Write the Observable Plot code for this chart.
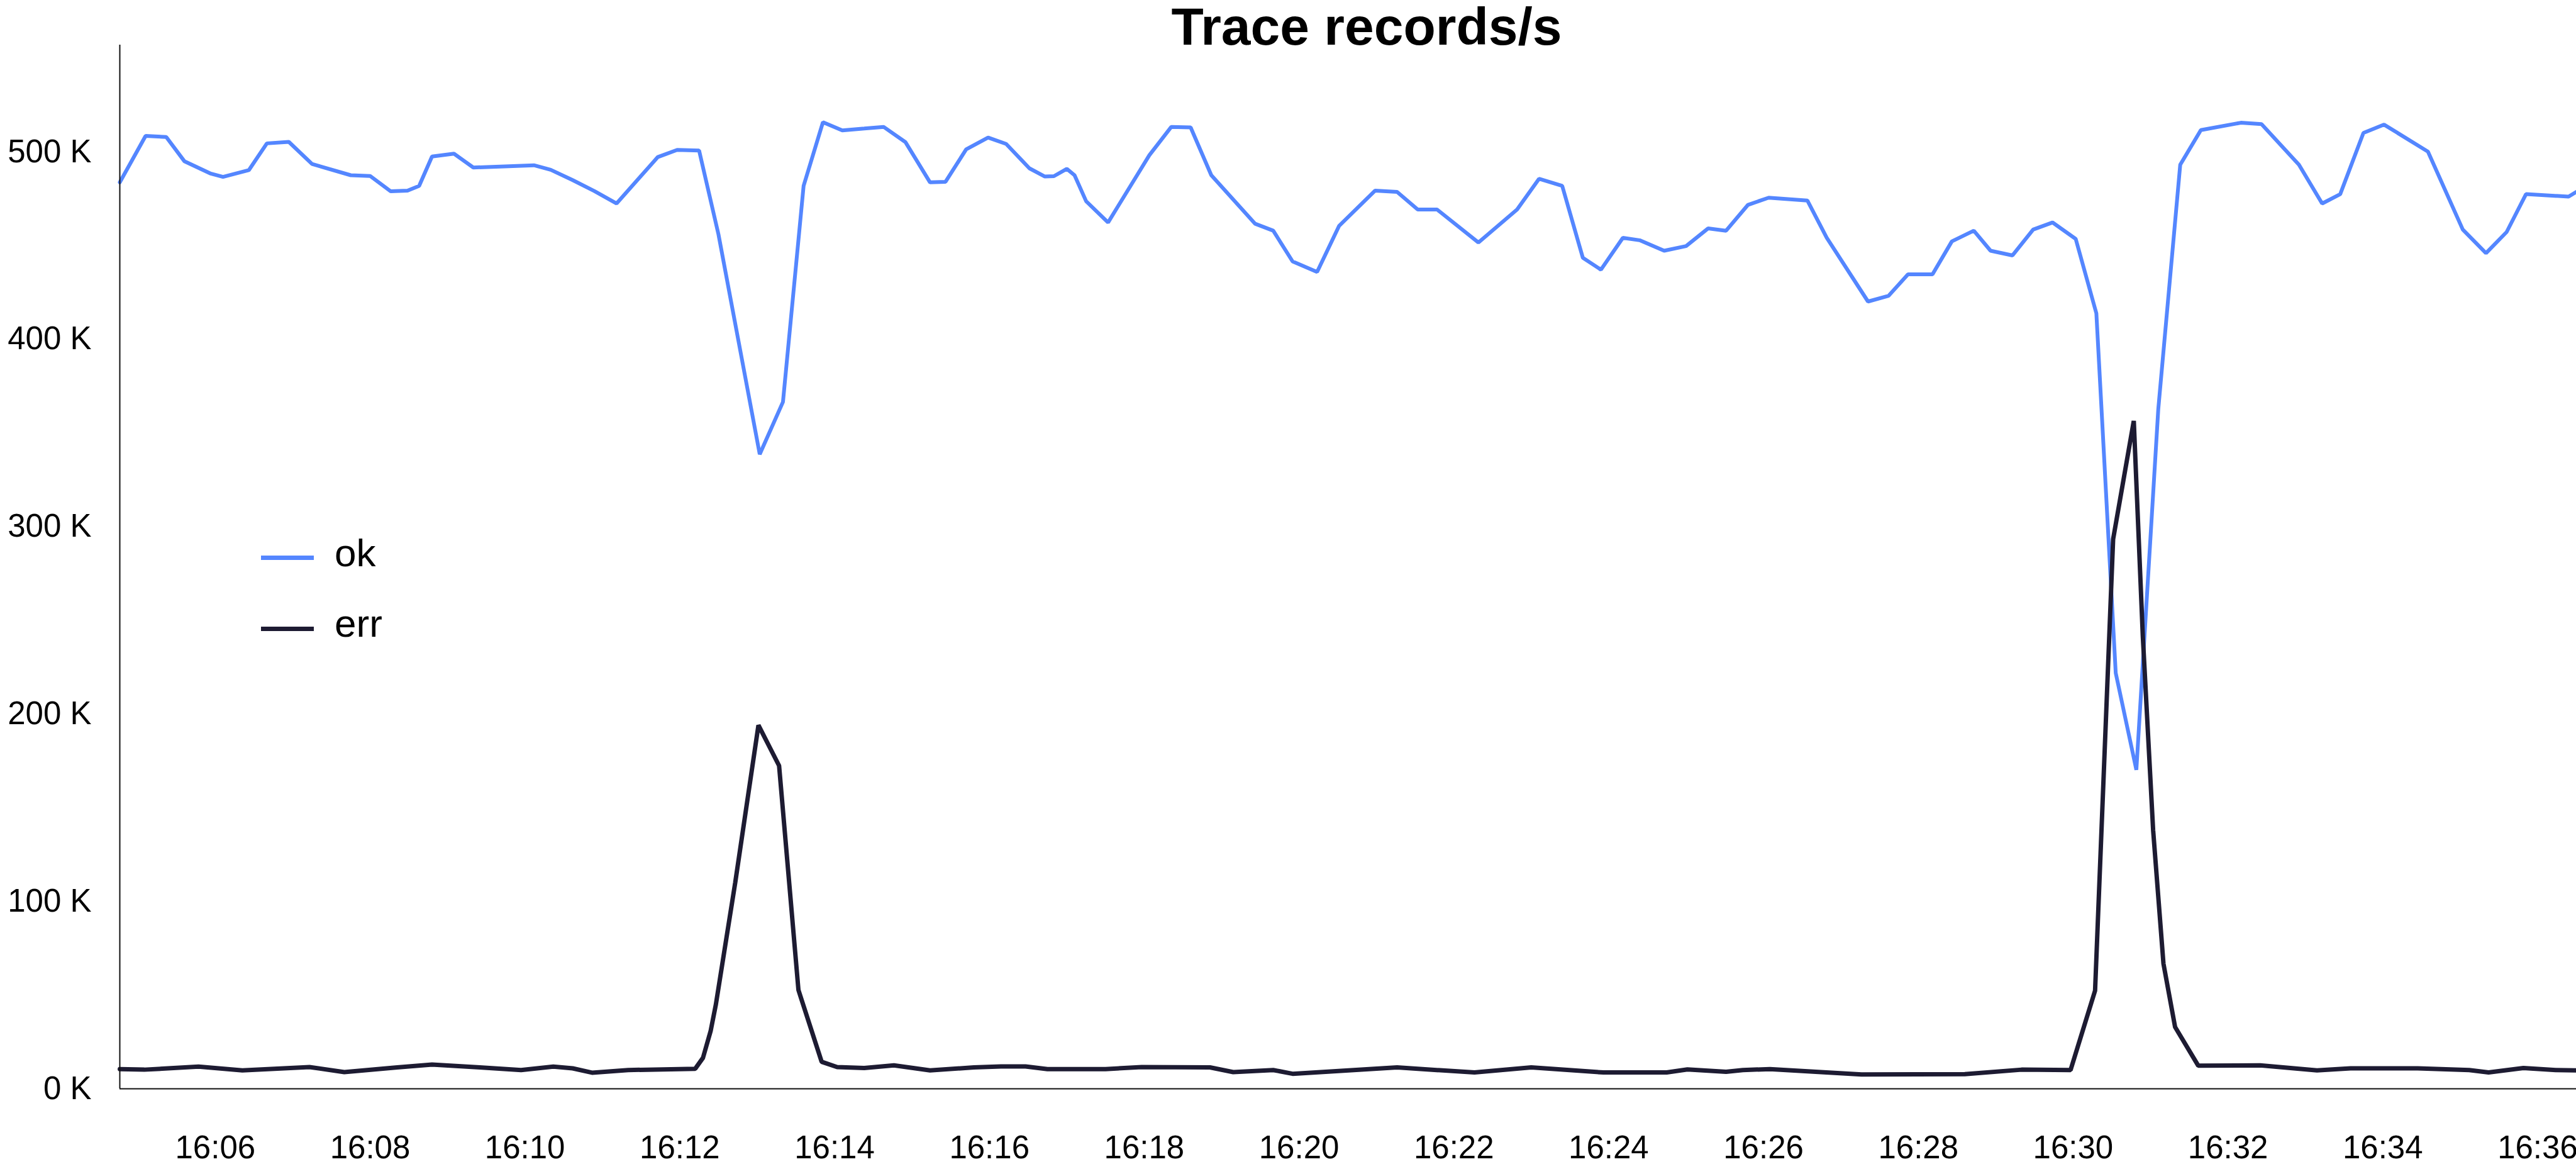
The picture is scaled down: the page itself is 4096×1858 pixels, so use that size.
<!DOCTYPE html>
<html>
<head>
<meta charset="utf-8">
<script src="https://cdn.jsdelivr.net/npm/d3@7"></script>
<script src="https://cdn.jsdelivr.net/npm/@observablehq/plot@0.6"></script>
<style>
  html, body { margin: 0; padding: 0; background: #fff; }
  #wrap { position: relative; width: 4096px; height: 1858px; font-family: "Liberation Sans", Arial, sans-serif; color: #000; }
  #chart { position: absolute; left: 0; top: 0; }
  #title { position: absolute; left: 2173px; top: 0px; transform: translateX(-50%); font-size: 84px; line-height: 84px; font-weight: bold; white-space: nowrap; }
  .lg-swatch { position: absolute; left: 414.5px; width: 84.3px; height: 7.8px; }
  .lg-text { position: absolute; left: 532px; font-size: 62px; line-height: 62px; white-space: nowrap; }
</style>
</head>
<body>
<div id="wrap">
  <div id="chart"></div>
  <div id="title"></div>
  <div id="legend"></div>
</div>
<script>
// ---- data ----
const titleText = "Trace records/s";
const seriesNames = ["ok", "err"];
const seriesColors = ["#5486ff", "#1d1b32"];

const okTimes = ["16:04:46","16:05:06","16:05:22","16:05:36","16:05:56","16:06:06","16:06:26","16:06:40","16:06:57","16:07:15",
  "16:07:45","16:08:00","16:08:16","16:08:29","16:08:38","16:08:48","16:09:05","16:09:20","16:10:07","16:10:20",
  "16:10:37","16:10:54","16:11:11","16:11:43","16:11:58","16:12:15","16:12:30","16:13:02","16:13:20","16:13:36",
  "16:13:51","16:14:06","16:14:23","16:14:38","16:14:55","16:15:14","16:15:26","16:15:42","16:15:59","16:16:13",
  "16:16:31","16:16:43","16:16:50","16:17:00","16:17:06","16:17:15","16:17:32","16:18:04","16:18:21","16:18:36",
  "16:18:52","16:19:26","16:19:40","16:19:55","16:20:14","16:20:31","16:20:59","16:21:16","16:21:32","16:21:47",
  "16:22:19","16:22:49","16:23:06","16:23:24","16:23:40","16:23:54","16:24:11","16:24:24","16:24:43","16:25:00",
  "16:25:17","16:25:31","16:25:48","16:26:04","16:26:34","16:26:49","16:27:21","16:27:37","16:27:52","16:28:11",
  "16:28:26","16:28:43","16:28:56","16:29:13","16:29:29","16:29:44","16:30:02","16:30:18","16:30:33","16:30:49",
  "16:31:06","16:31:23","16:31:39","16:32:10","16:32:26","16:32:55","16:33:13","16:33:27","16:33:45","16:34:01",
  "16:34:35","16:35:02","16:35:20","16:35:36","16:35:51","16:36:24","16:36:30"];
const okValues = [483.7,508.5,507.9,495.0,488.5,486.6,490.2,504.5,505.3,493.5,
  487.5,487.1,478.9,479.3,481.8,497.5,499.0,491.6,492.8,490.4,
  484.9,479.0,472.4,497.2,501.0,500.7,456.0,338.6,366.5,481.8,
  515.8,511.4,512.4,513.3,505.1,483.7,484.0,501.3,507.6,504.2,
  491.2,486.8,487.0,490.9,487.5,473.6,462.3,498.2,513.3,513.0,
  487.5,461.6,457.9,441.5,435.9,460.4,479.3,478.6,469.2,469.2,
  451.6,469.2,485.6,481.8,443.4,437.1,454.1,452.8,447.2,449.7,
  459.1,457.9,471.7,475.5,474.0,454.1,420.1,423.2,434.6,434.6,
  452.2,457.9,447.2,444.7,458.5,462.3,453.5,413.8,221.9,170.2,
  362.8,493.1,511.6,515.5,514.8,493.1,472.4,477.4,510.1,514.5,
  500.1,458.5,445.9,457.2,477.4,476.1,478.6];

const errTimes = ["16:04:46","16:05:05","16:05:47","16:06:21","16:07:13","16:07:40","16:08:21","16:08:48","16:09:25","16:09:57",
  "16:10:22","16:10:37","16:10:52","16:11:20","16:12:12","16:12:18","16:12:24","16:12:28","16:12:43","16:13:01",
  "16:13:17","16:13:32","16:13:50","16:14:02","16:14:23","16:14:46","16:15:14","16:15:48","16:16:09","16:16:28",
  "16:16:45","16:17:30","16:17:58","16:18:51","16:19:09","16:19:40","16:19:55","16:21:16","16:22:16","16:23:00",
  "16:23:56","16:24:45","16:25:01","16:25:31","16:25:44","16:26:05","16:27:16","16:28:36","16:29:20","16:29:58",
  "16:30:17","16:30:31","16:30:47","16:30:54","16:31:02","16:31:10","16:31:19","16:31:37","16:32:25","16:33:09",
  "16:33:35","16:34:27","16:35:07","16:35:22","16:35:49","16:36:14","16:36:30"];
const errValues = [10.5,10.2,11.8,9.8,11.6,8.9,11.4,12.9,11.4,10.0,
  11.8,10.9,8.6,10.0,10.7,16.5,31.0,45.0,110.0,194.0,
  172.4,52.7,14.4,11.6,11.1,12.5,9.8,11.4,11.9,11.9,
  10.5,10.5,11.6,11.4,8.9,10.0,8.0,11.4,8.7,11.4,
  8.7,8.7,10.3,9.1,10.0,10.5,7.6,7.8,10.2,10.0,
  52.4,293.3,356.4,241.5,138.0,66.8,33.0,12.3,12.5,9.8,
  10.9,10.9,10.0,8.7,11.1,10.0,9.8];

const xTickLabels = ["16:06","16:08","16:10","16:12","16:14","16:16","16:18","16:20","16:22","16:24","16:26","16:28","16:30","16:32","16:34","16:36"];
const yTickValues = [0, 100, 200, 300, 400, 500];
const yMax = 557;

// ---- build ----
const parseT = d3.utcParse("%H:%M:%S");
const parseHM = d3.utcParse("%H:%M");
const okRows = okTimes.map((t, i) => ({time: parseT(t), value: okValues[i], series: "ok"}));
const errRows = errTimes.map((t, i) => ({time: parseT(t), value: errValues[i], series: "err"}));
const xDomain = d3.extent(okRows.concat(errRows), d => d.time);

const chart = Plot.plot({
  width: 4096,
  height: 1858,
  marginLeft: 190,
  marginRight: 0,
  marginTop: 71,
  marginBottom: 128,
  style: {fontFamily: '"Liberation Sans", Arial, sans-serif', fontSize: "51px", color: "#000", background: "transparent", overflow: "visible"},
  x: {type: "utc", domain: xDomain, ticks: xTickLabels.map(parseHM), tickFormat: d3.utcFormat("%H:%M"), tickSize: 0, tickPadding: 74, label: null},
  y: {domain: [0, yMax], ticks: yTickValues, tickFormat: d => `${d} K`, tickSize: 0, tickPadding: 45, label: null},
  marks: [
    Plot.line(okRows, {x: "time", y: "value", stroke: seriesColors[0], strokeWidth: 6, strokeLinejoin: "miter"}),
    Plot.line(errRows, {x: "time", y: "value", stroke: seriesColors[1], strokeWidth: 7, strokeLinejoin: "miter"}),
    Plot.ruleY([0], {stroke: "#111", strokeWidth: 2}),
    Plot.ruleX([xDomain[0]], {stroke: "#111", strokeWidth: 2})
  ]
});
document.getElementById("chart").appendChild(chart);

document.getElementById("title").textContent = titleText;

const legend = document.getElementById("legend");
const swatchTops = [882.7, 995.5];
const textTops = [848.1, 960.2];
seriesNames.forEach((name, i) => {
  const sw = document.createElement("div");
  sw.className = "lg-swatch";
  sw.style.top = swatchTops[i] + "px";
  sw.style.background = seriesColors[i];
  legend.appendChild(sw);
  const tx = document.createElement("div");
  tx.className = "lg-text";
  tx.style.top = textTops[i] + "px";
  tx.textContent = name;
  legend.appendChild(tx);
});
</script>
</body>
</html>
